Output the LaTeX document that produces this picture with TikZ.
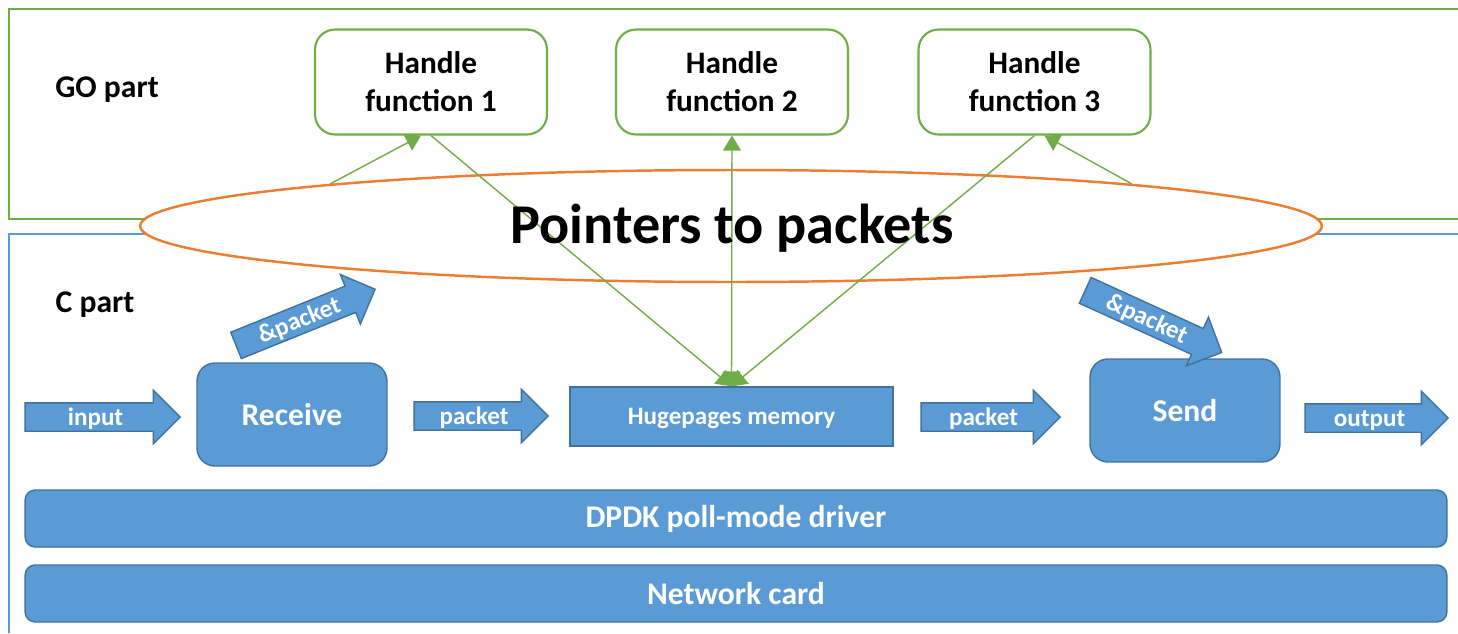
\documentclass[tikz,border=0pt]{standalone}
\usepackage{fontspec}
\setmainfont{Carlito}
\usetikzlibrary{shapes.geometric,shapes.arrows,arrows.meta}
\definecolor{gogreen}{RGB}{112,173,71}
\definecolor{cblue}{RGB}{91,155,213}
\definecolor{cedge}{RGB}{65,113,156}
\definecolor{ptrorange}{RGB}{237,125,49}
\tikzset{
	partlabel/.style={font=\bfseries\fontsize{18}{21}\selectfont},
	handler/.style={draw=gogreen,line width=1.2pt,rounded corners=0.4cm,minimum width=4.64cm,minimum height=2.1cm,align=center,font=\bfseries\fontsize{17.8}{21.5}\selectfont},
	block/.style={draw=cedge,fill=cblue,line width=0.8pt,text=white,inner sep=0pt,font=\bfseries\fontsize{18}{21}\selectfont},
	flow/.style={single arrow,draw=cedge,fill=cblue,line width=0.8pt,text=white,font=\bfseries\fontsize{14.3}{16}\selectfont,single arrow head extend=0.25cm,text height=0.36cm,text depth=0.04cm,inner ysep=0.07cm,inner xsep=0pt},
	link/.style={draw=gogreen,line width=0.8pt,-{Triangle[length=0.3cm,width=0.36cm]}},
}

\begin{document}
\begin{tikzpicture}[x=0.02cm,y=-0.02cm]
	\useasboundingbox (0,0) rectangle (1458,633);
	\clip (0,0) rectangle (1458,633);
	% the two parts
	\draw[gogreen,line width=1.4pt] (1458,9) -- (9,9) -- (9,219) -- (1458,219);
	\draw[cblue,line width=1.4pt] (1458,234) -- (9,234) -- (9,633);
	\node[partlabel] (go) at (107,90) {GO part};
	\node[partlabel] (cpart) at (95,305) {C part};

	\node[handler] (hf1) at (431,82) {Handle\\function 1};
	\node[handler] (hf2) at (732,82) {Handle\\function 2};
	\node[handler] (hf3) at (1034.5,82) {Handle\\function 3};

	\node[ellipse,draw=ptrorange,fill=white,line width=1.4pt,minimum width=23.64cm,minimum height=2.24cm,inner sep=0pt] (ptr) at (731,226) {};

	% C side blocks
	\node[block,rounded corners=0.36cm,minimum width=3.8cm,minimum height=2.06cm] (recv) at (292,414.5) {Receive};
	\node[block,minimum width=6.46cm,minimum height=1.18cm,font=\bfseries\fontsize{14.3}{16}\selectfont,text height=0.36cm,text depth=0.04cm] (huge) at (731.5,416.5) {Hugepages memory};
	\node[block,rounded corners=0.36cm,minimum width=3.8cm,minimum height=2.06cm] (send) at (1185,410.5) {Send};
	\node[block,rounded corners=0.2cm,minimum width=28.44cm,minimum height=1.14cm] (dpdk) at (736,518.5) {DPDK poll-mode driver};
	\node[block,rounded corners=0.2cm,minimum width=28.44cm,minimum height=1.14cm] (nic) at (736,593.5) {Network card};

	\node[flow,minimum height=3.1cm] (input) at (95.5,417) {input};
	\node[flow,minimum height=2.68cm] (pkt1) at (474,416) {packet};
	\node[flow,minimum height=2.78cm] (pkt2) at (983.5,417) {packet};
	\node[flow,minimum height=2.86cm] (output) at (1369.5,418) {output};
	\node[flow,minimum height=3cm,rotate=22] (ref1) at (299,320) {\&packet};
	\node[flow,minimum height=3cm,rotate=-24.5] (ref2) at (1147,318.5) {\&packet};

	% pointers
	\draw[link] (ptr.174) -- ([xshift=-0.2cm]hf1.south);
	\draw[link] (ptr.6) -- ([xshift=0.2cm]hf3.south);
	\draw[link] (hf1.south) -- (huge.north);
	\draw[link] (hf3.south) -- (huge.north);
	\draw[link,{Triangle[length=0.3cm,width=0.36cm]}-{Triangle[length=0.3cm,width=0.36cm]}] (huge.north) -- (hf2.south);

	\node[font=\bfseries\fontsize{32}{37}\selectfont] (ptrtext) at (732,228) {Pointers to packets};
\end{tikzpicture}
\end{document}
